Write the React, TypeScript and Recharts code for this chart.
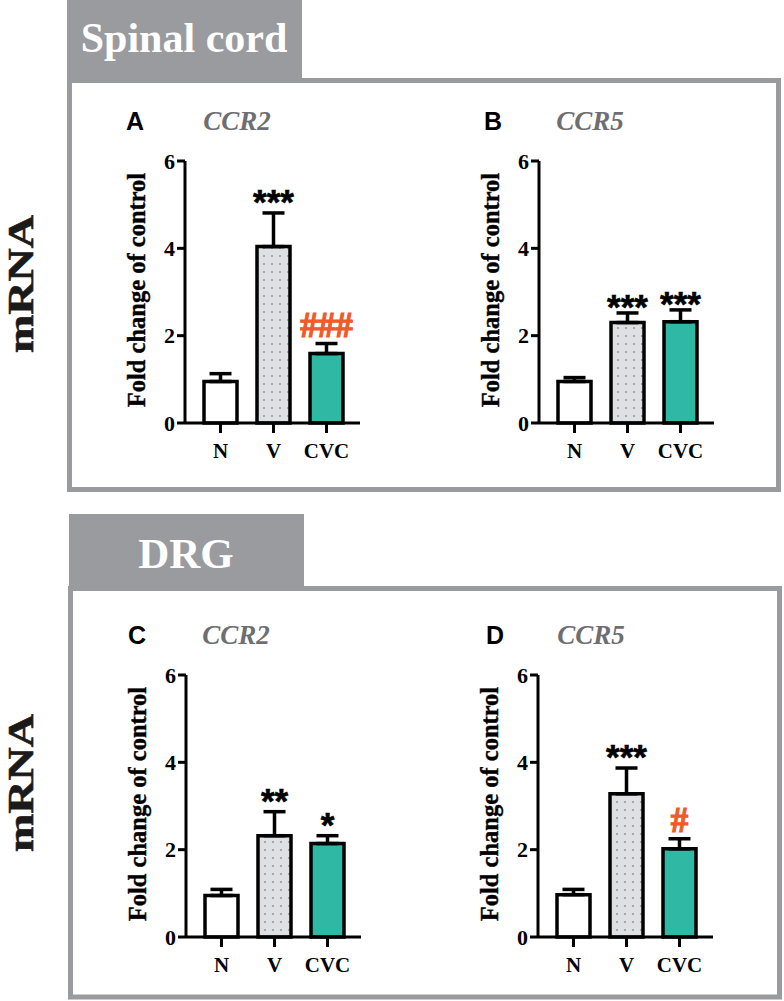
import { BarChart, Bar, XAxis, YAxis, Cell, ErrorBar, LabelList } from "recharts";

// group labels shared by all four panels
const GROUPS = ["N", "V", "CVC"];
const Y_TICKS = [0, 2, 4, 6];

// spinal cord CCR2 (A)
const A_MEAN = [0.95, 4.04, 1.59];
const A_SEM = [0.18, 0.77, 0.23];
const A_MARKS = ["", "***", "###"];

// spinal cord CCR5 (B)
const B_MEAN = [0.95, 2.3, 2.32];
const B_SEM = [0.09, 0.22, 0.27];
const B_MARKS = ["", "***", "***"];

// DRG CCR2 (C)
const C_MEAN = [0.95, 2.32, 2.14];
const C_SEM = [0.14, 0.55, 0.18];
const C_MARKS = ["", "**", "*"];

// DRG CCR5 (D)
const D_MEAN = [0.97, 3.28, 2.02];
const D_SEM = [0.12, 0.59, 0.23];
const D_MARKS = ["", "***", "#"];

const SERIF = '"Liberation Serif", "Times New Roman", serif';
const SANS = '"Liberation Sans", Arial, sans-serif';
const FRAME = "#9a9b9f";
const TEAL = "#2fb9a5";
const ORANGE = "#f05a28";

interface PanelProps {
  id: string;
  left: number;
  top: number;
  means: number[];
  sems: number[];
  marks: string[];
  markGap?: number;
}

function Panel({ id, left, top, means, sems, marks, markGap = 19 }: PanelProps) {
  const data = GROUPS.map((g, i) => ({
    group: g,
    mean: means[i],
    err: [0, sems[i]],
    mark: marks[i],
  }));
  const fills = ["#ffffff", `url(#dots-${id})`, TEAL];

  const renderMark = (p: any) => {
    const { x, y, width, height, index, value } = p;
    if (!value) return null;
    const mean = means[index];
    const errTop = y - (sems[index] / mean) * height;
    const cy = errTop - markGap;
    const isHash = String(value).startsWith("#");
    const color = isHash ? ORANGE : "#000";
    return (
      <text
        x={x + width / 2}
        y={isHash ? cy + 12 : cy + 20}
        textAnchor="middle"
        fontFamily={isHash ? SERIF : SANS}
        fontWeight="bold"
        fontSize={isHash ? 35 : 35}
        fill={color}
        stroke={color}
        strokeWidth={isHash ? 1.2 : 0.6}
      >
        {value}
      </text>
    );
  };

  const renderYLabel = (p: any) => {
    const { x, y, height } = p.viewBox;
    return (
      <text
        transform={`translate(${x + 44.5}, ${y + height / 2 - 2}) rotate(-90)`}
        textAnchor="middle"
        fontFamily={SERIF}
        fontWeight="bold"
        fontSize={24.5}
        fill="#000"
        stroke="#000"
        strokeWidth={0.4}
      >
        Fold change of control
      </text>
    );
  };

  const xTick = { fontFamily: SERIF, fontWeight: "bold", fontSize: 21, fill: "#000" };
  const yTick = { fontFamily: SERIF, fontWeight: "bold", fontSize: 22, fill: "#000" };
  const line = { stroke: "#000", strokeWidth: 3 };

  return (
    <div style={{ position: "absolute", left, top }}>
      <BarChart width={280} height={380} data={data} margin={{ top: 61, right: 20, left: 0, bottom: 0 }}>
        <defs>
          <pattern id={`dots-${id}`} width={8} height={8} patternUnits="userSpaceOnUse">
            <rect width={8} height={8} fill="#dfe0e4" />
            <circle cx={4} cy={4} r={1.1} fill="#9a9a9a" />
          </pattern>
        </defs>
        <XAxis
          dataKey="group"
          height={57}
          padding={{ left: 9, right: 7 }}
          tick={xTick}
          tickSize={10}
          tickMargin={10}
          axisLine={line}
          tickLine={line}
          interval={0}
        />
        <YAxis
          width={85}
          domain={[0, 6]}
          ticks={Y_TICKS}
          tick={yTick}
          tickSize={8}
          tickMargin={2}
          axisLine={line}
          tickLine={line}
          label={renderYLabel}
        />
        <Bar dataKey="mean" barSize={33} stroke="#000" strokeWidth={3.5} isAnimationActive={false}>
          {data.map((d, i) => (
            <Cell key={d.group} fill={fills[i]} />
          ))}
          <ErrorBar dataKey="err" width={11} stroke="#000" strokeWidth={3.5} direction="y" />
          <LabelList dataKey="mark" content={renderMark} />
        </Bar>
      </BarChart>
    </div>
  );
}

function Frame() {
  return (
    <svg width={784} height={1001} style={{ position: "absolute", left: 0, top: 0 }}>
      {/* spinal cord block */}
      <rect x={67} y={0} width={235} height={80} fill={FRAME} />
      <rect x={69.5} y={80.5} width={709} height={409} fill="none" stroke={FRAME} strokeWidth={5} />
      <text x={184} y={52} textAnchor="middle" fontFamily={SERIF} fontWeight="bold" fontSize={42} fill="#fff">
        Spinal cord
      </text>
      {/* DRG block */}
      <rect x={69} y={514} width={235} height={76} fill={FRAME} />
      <rect x={70.5} y={588.5} width={709} height={408.5} fill="none" stroke={FRAME} strokeWidth={5} />
      <text x={186} y={568} textAnchor="middle" fontFamily={SERIF} fontWeight="bold" fontSize={43} fill="#fff">
        DRG
      </text>

      {[284, 783].map((cy) => (
        <text
          key={cy}
          transform={`translate(33, ${cy}) rotate(-90)`}
          textAnchor="middle"
          fontFamily={SERIF}
          fontWeight="bold"
          fontSize={35}
          textLength={138}
          lengthAdjust="spacingAndGlyphs"
          fill="#1a1a1a"
          stroke="#1a1a1a"
          strokeWidth={0.6}
        >
          mRNA
        </text>
      ))}

      {[
        { l: "A", g: "CCR2", x: 135, gx: 237, y: 130 },
        { l: "B", g: "CCR5", x: 493, gx: 590, y: 130 },
        { l: "C", g: "CCR2", x: 137, gx: 236, y: 644 },
        { l: "D", g: "CCR5", x: 495, gx: 591, y: 644 },
      ].map((t) => (
        <g key={t.l}>
          <text x={t.x} y={t.y} textAnchor="middle" fontFamily={SANS} fontWeight="bold" fontSize={25} fill="#000">
            {t.l}
          </text>
          <text
            x={t.gx}
            y={t.y}
            textAnchor="middle"
            fontFamily={SERIF}
            fontWeight="bold"
            fontStyle="italic"
            fontSize={27}
            fill="#6d6e71"
          >
            {t.g}
          </text>
        </g>
      ))}
    </svg>
  );
}

export default function App() {
  return (
    <div style={{ position: "absolute", left: 0, top: 0, width: 784, height: 1001, background: "#fff" }}>
      <Frame />
      <Panel id="a" left={100} top={100} means={A_MEAN} sems={A_SEM} marks={A_MARKS} />
      <Panel id="b" left={454} top={100} means={B_MEAN} sems={B_SEM} marks={B_MARKS} markGap={14} />
      <Panel id="c" left={101} top={614} means={C_MEAN} sems={C_SEM} marks={C_MARKS} />
      <Panel id="d" left={453} top={614} means={D_MEAN} sems={D_SEM} marks={D_MARKS} />
    </div>
  );
}
